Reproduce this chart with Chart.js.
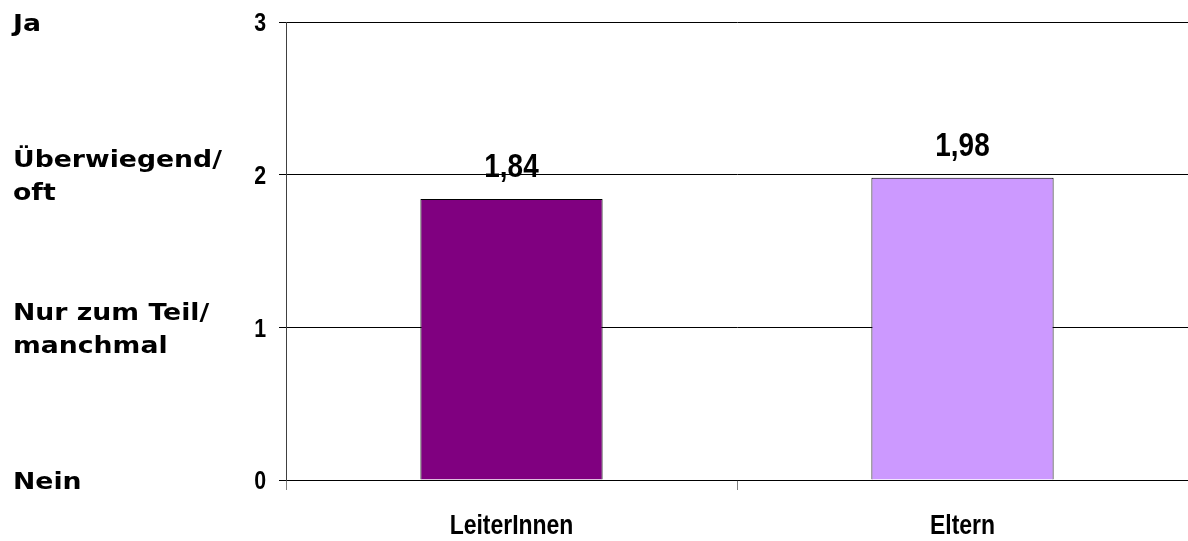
<!DOCTYPE html>
<html>
<head>
<meta charset="utf-8">
<script src="https://cdn.jsdelivr.net/npm/chart.js@4"></script>
<style>
  html, body { margin: 0; padding: 0; background: #fff; }
  canvas { display: block; }
</style>
</head>
<body>
<canvas id="chart" width="1188" height="541"></canvas>
<script>
// groups and their mean answer (0 = Nein ... 3 = Ja)
const groups = ['LeiterInnen', 'Eltern'];
const means = [1.84, 1.98];
const barColors = ['#800080', '#CC99FF'];
const yTicks = [0, 1, 2, 3];
// verbal meaning of each scale step, drawn left of the numbers
const scaleWords = [['Nein'], ['Nur zum Teil/', 'manchmal'], ['Überwiegend/', 'oft'], ['Ja']];

const sans = "'Liberation Sans', Arial, sans-serif";

// text squeezed horizontally, stands in for Arial Narrow
function narrowText(ctx, text, x, y, size, squeeze) {
  ctx.save();
  ctx.font = 'bold ' + size + 'px ' + sans;
  ctx.translate(x, y);
  ctx.scale(squeeze, 1);
  ctx.fillText(text, 0, 0);
  ctx.restore();
}

// value above each bar, German decimal comma
const valueLabels = {
  id: 'valueLabels',
  afterDatasetsDraw(chart) {
    const ctx = chart.ctx;
    const meta = chart.getDatasetMeta(0);
    ctx.save();
    ctx.fillStyle = '#000';
    ctx.textAlign = 'center';
    ctx.textBaseline = 'alphabetic';
    meta.data.forEach((bar, i) => {
      narrowText(ctx, means[i].toFixed(2).replace('.', ','), bar.x, bar.y - 22, 34, 0.82);
    });
    ctx.restore();
  }
};

// axis numbers, category names and the answer words
const axisText = {
  id: 'axisText',
  afterDraw(chart) {
    const ctx = chart.ctx;
    const y = chart.scales.y;
    const x = chart.scales.x;
    ctx.save();
    ctx.fillStyle = '#000';
    ctx.textBaseline = 'middle';

    ctx.textAlign = 'right';
    yTicks.forEach(v => narrowText(ctx, String(v), y.right - 20, y.getPixelForValue(v) + 2, 26, 0.82));

    ctx.textAlign = 'center';
    groups.forEach((g, i) => narrowText(ctx, g, x.getPixelForValue(i), x.top + 46, 28, 0.82));

    ctx.textAlign = 'left';
    const lineH = 33;
    scaleWords.forEach((lines, i) => {
      const mid = y.getPixelForValue(yTicks[i]);
      const first = mid - (lines.length - 1) * lineH / 2;
      lines.forEach((t, j) => {
        ctx.save();
        ctx.font = 'bold 23px "DejaVu Sans", Verdana, sans-serif';
        ctx.translate(13, first + j * lineH + 3);
        ctx.scale(1.16, 1);
        ctx.fillText(t, 0, 0);
        ctx.restore();
      });
    });
    ctx.restore();
  }
};

new Chart(document.getElementById('chart'), {
  type: 'bar',
  data: {
    labels: groups,
    datasets: [{
      data: means,
      backgroundColor: barColors,
      borderColor: '#000',
      borderWidth: 1,
      categoryPercentage: 1,
      barPercentage: 0.404
    }]
  },
  options: {
    responsive: false,
    animation: false,
    devicePixelRatio: 1,
    layout: { padding: { top: 22, right: 0, left: 0, bottom: 0 } },
    plugins: { legend: { display: false }, tooltip: { enabled: false } },
    scales: {
      x: {
        grid: { drawOnChartArea: false, drawTicks: true, tickLength: 10, color: '#808080' },
        border: { color: '#000' },
        ticks: { display: false },
        afterFit(scale) { scale.height = 61; }
      },
      y: {
        min: 0,
        max: 3,
        afterBuildTicks(scale) { scale.ticks = yTicks.map(v => ({ value: v })); },
        grid: { color: '#000', tickLength: 7 },
        border: { color: '#404040' },
        ticks: { display: false },
        afterFit(scale) { scale.width = 286; }
      }
    }
  },
  plugins: [valueLabels, axisText]
});
</script>
</body>
</html>
